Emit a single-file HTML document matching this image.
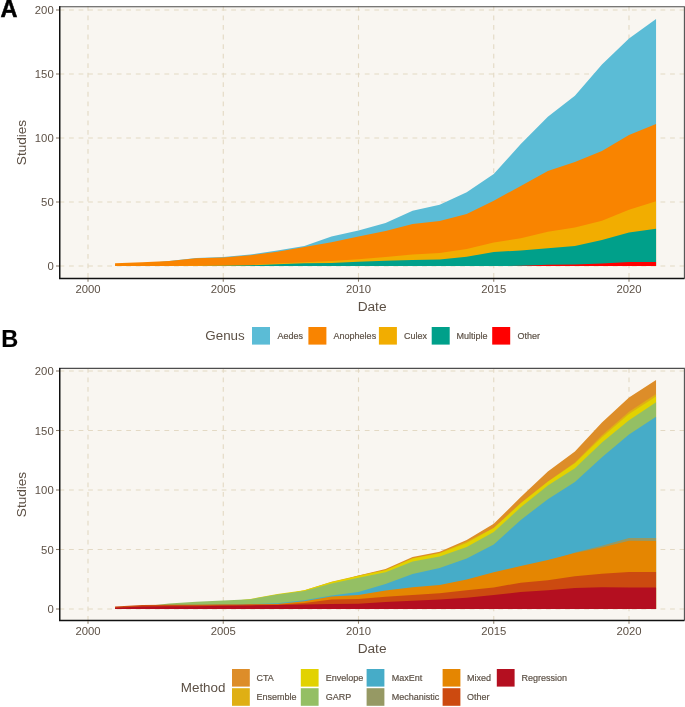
<!DOCTYPE html>
<html><head><meta charset="utf-8"><style>
html,body{margin:0;padding:0;background:#fff;}
svg{display:block;will-change:transform;font-family:"Liberation Sans",sans-serif;}
</style></head><body>
<svg width="685" height="707" viewBox="0 0 685 707">
<text x="0.6" y="17" font-size="23.5" font-weight="bold" fill="#000" stroke="#000" stroke-width="0.5">A</text>
<rect x="59" y="6" width="625" height="272" fill="#F9F6F1"/>
<path d="M88.00,6 L88.00,278" stroke="#E3D9C4" stroke-width="1.1" stroke-dasharray="4.77 4.77" fill="none"/>
<path d="M223.25,6 L223.25,278" stroke="#E3D9C4" stroke-width="1.1" stroke-dasharray="4.77 4.77" fill="none"/>
<path d="M358.50,6 L358.50,278" stroke="#E3D9C4" stroke-width="1.1" stroke-dasharray="4.77 4.77" fill="none"/>
<path d="M493.75,6 L493.75,278" stroke="#E3D9C4" stroke-width="1.1" stroke-dasharray="4.77 4.77" fill="none"/>
<path d="M629.00,6 L629.00,278" stroke="#E3D9C4" stroke-width="1.1" stroke-dasharray="4.77 4.77" fill="none"/>
<path d="M59.5,266.00 L684,266.00" stroke="#E3D9C4" stroke-width="1.1" stroke-dasharray="4.77 4.77" fill="none"/>
<path d="M59.5,202.00 L684,202.00" stroke="#E3D9C4" stroke-width="1.1" stroke-dasharray="4.77 4.77" fill="none"/>
<path d="M59.5,138.00 L684,138.00" stroke="#E3D9C4" stroke-width="1.1" stroke-dasharray="4.77 4.77" fill="none"/>
<path d="M59.5,74.00 L684,74.00" stroke="#E3D9C4" stroke-width="1.1" stroke-dasharray="4.77 4.77" fill="none"/>
<path d="M59.5,10.00 L684,10.00" stroke="#E3D9C4" stroke-width="1.1" stroke-dasharray="4.77 4.77" fill="none"/>
<path d="M115.05,264.70 L142.10,263.80 L169.15,260.90 L196.20,258.00 L223.25,257.00 L250.30,254.50 L277.35,250.40 L304.40,246.00 L331.45,236.50 L358.50,230.50 L385.55,223.10 L412.60,210.80 L439.65,204.70 L466.70,192.20 L493.75,174.10 L520.80,144.10 L547.85,116.70 L574.90,95.70 L601.95,64.40 L629.00,38.60 L656.05,19.00 L656.05,266.00 L629.00,266.00 L601.95,266.00 L574.90,266.00 L547.85,266.00 L520.80,266.00 L493.75,266.00 L466.70,266.00 L439.65,266.00 L412.60,266.00 L385.55,266.00 L358.50,266.00 L331.45,266.00 L304.40,266.00 L277.35,266.00 L250.30,266.00 L223.25,266.00 L196.20,266.00 L169.15,266.00 L142.10,266.00 L115.05,266.00Z" fill="#5BBCD6"/>
<path d="M115.05,263.20 L142.10,262.30 L169.15,261.00 L196.20,258.30 L223.25,257.50 L250.30,255.20 L277.35,251.80 L304.40,247.00 L331.45,242.30 L358.50,236.50 L385.55,231.10 L412.60,224.10 L439.65,220.90 L466.70,214.00 L493.75,200.70 L520.80,186.00 L547.85,171.00 L574.90,162.00 L601.95,150.90 L629.00,135.00 L656.05,124.00 L656.05,266.00 L629.00,266.00 L601.95,266.00 L574.90,266.00 L547.85,266.00 L520.80,266.00 L493.75,266.00 L466.70,266.00 L439.65,266.00 L412.60,266.00 L385.55,266.00 L358.50,266.00 L331.45,266.00 L304.40,266.00 L277.35,266.00 L250.30,266.00 L223.25,266.00 L196.20,266.00 L169.15,266.00 L142.10,266.00 L115.05,266.00Z" fill="#F98400"/>
<path d="M115.05,266.00 L142.10,266.00 L169.15,266.00 L196.20,265.70 L223.25,265.50 L250.30,265.00 L277.35,263.50 L304.40,262.30 L331.45,261.00 L358.50,259.20 L385.55,256.90 L412.60,254.40 L439.65,252.90 L466.70,249.00 L493.75,242.60 L520.80,238.30 L547.85,231.80 L574.90,227.50 L601.95,220.70 L629.00,209.70 L656.05,201.20 L656.05,266.00 L629.00,266.00 L601.95,266.00 L574.90,266.00 L547.85,266.00 L520.80,266.00 L493.75,266.00 L466.70,266.00 L439.65,266.00 L412.60,266.00 L385.55,266.00 L358.50,266.00 L331.45,266.00 L304.40,266.00 L277.35,266.00 L250.30,266.00 L223.25,266.00 L196.20,266.00 L169.15,266.00 L142.10,266.00 L115.05,266.00Z" fill="#F2AD00"/>
<path d="M115.05,266.00 L142.10,266.00 L169.15,266.00 L196.20,266.00 L223.25,265.80 L250.30,265.30 L277.35,264.20 L304.40,263.30 L331.45,263.00 L358.50,261.80 L385.55,260.70 L412.60,260.10 L439.65,259.60 L466.70,256.80 L493.75,251.90 L520.80,250.50 L547.85,248.20 L574.90,246.10 L601.95,239.90 L629.00,232.50 L656.05,228.80 L656.05,266.00 L629.00,266.00 L601.95,266.00 L574.90,266.00 L547.85,266.00 L520.80,266.00 L493.75,266.00 L466.70,266.00 L439.65,266.00 L412.60,266.00 L385.55,266.00 L358.50,266.00 L331.45,266.00 L304.40,266.00 L277.35,266.00 L250.30,266.00 L223.25,266.00 L196.20,266.00 L169.15,266.00 L142.10,266.00 L115.05,266.00Z" fill="#00A08A"/>
<path d="M115.05,266.00 L142.10,266.00 L169.15,266.00 L196.20,266.00 L223.25,266.00 L250.30,266.00 L277.35,266.00 L304.40,266.00 L331.45,266.00 L358.50,266.00 L385.55,266.00 L412.60,266.00 L439.65,266.00 L466.70,266.00 L493.75,266.00 L520.80,265.80 L547.85,264.80 L574.90,264.40 L601.95,263.50 L629.00,262.10 L656.05,262.00 L656.05,266.00 L629.00,266.00 L601.95,266.00 L574.90,266.00 L547.85,266.00 L520.80,266.00 L493.75,266.00 L466.70,266.00 L439.65,266.00 L412.60,266.00 L385.55,266.00 L358.50,266.00 L331.45,266.00 L304.40,266.00 L277.35,266.00 L250.30,266.00 L223.25,266.00 L196.20,266.00 L169.15,266.00 L142.10,266.00 L115.05,266.00Z" fill="#FF0000"/>
<path d="M59,6.67 L684.4,6.67 L684.4,278.5" fill="none" stroke="#4D4D4D" stroke-width="1.07"/>
<path d="M59.75,6.17 L59.75,278.5 L684.5,278.5" stroke="#111" stroke-width="1.5" fill="none"/>
<path d="M56,266.00 L59,266.00" stroke="#8B7D6B" stroke-width="1.07"/>
<text x="53.7" y="270.05" text-anchor="end" font-size="11.3" fill="#5C5045">0</text>
<path d="M56,202.00 L59,202.00" stroke="#8B7D6B" stroke-width="1.07"/>
<text x="53.7" y="206.05" text-anchor="end" font-size="11.3" fill="#5C5045">50</text>
<path d="M56,138.00 L59,138.00" stroke="#8B7D6B" stroke-width="1.07"/>
<text x="53.7" y="142.05" text-anchor="end" font-size="11.3" fill="#5C5045">100</text>
<path d="M56,74.00 L59,74.00" stroke="#8B7D6B" stroke-width="1.07"/>
<text x="53.7" y="78.05" text-anchor="end" font-size="11.3" fill="#5C5045">150</text>
<path d="M56,10.00 L59,10.00" stroke="#8B7D6B" stroke-width="1.07"/>
<text x="53.7" y="14.05" text-anchor="end" font-size="11.3" fill="#5C5045">200</text>
<path d="M88.00,279 L88.00,281.7" stroke="#8B7D6B" stroke-width="1.07"/>
<text x="88.00" y="292.70" text-anchor="middle" font-size="11.3" fill="#5C5045">2000</text>
<path d="M223.25,279 L223.25,281.7" stroke="#8B7D6B" stroke-width="1.07"/>
<text x="223.25" y="292.70" text-anchor="middle" font-size="11.3" fill="#5C5045">2005</text>
<path d="M358.50,279 L358.50,281.7" stroke="#8B7D6B" stroke-width="1.07"/>
<text x="358.50" y="292.70" text-anchor="middle" font-size="11.3" fill="#5C5045">2010</text>
<path d="M493.75,279 L493.75,281.7" stroke="#8B7D6B" stroke-width="1.07"/>
<text x="493.75" y="292.70" text-anchor="middle" font-size="11.3" fill="#5C5045">2015</text>
<path d="M629.00,279 L629.00,281.7" stroke="#8B7D6B" stroke-width="1.07"/>
<text x="629.00" y="292.70" text-anchor="middle" font-size="11.3" fill="#5C5045">2020</text>
<text x="372.1" y="311.10" text-anchor="middle" font-size="13.7" fill="#5C5045">Date</text>
<text transform="translate(26.3,142.5) rotate(-90)" x="0" y="0" text-anchor="middle" font-size="13.6" fill="#5C5045">Studies</text>
<text x="205.3" y="340.4" font-size="13.4" fill="#5C5045">Genus</text>
<rect x="252" y="327" width="18" height="17.6" fill="#5BBCD6"/>
<text x="277.5" y="338.8" font-size="9" fill="#5C5045" stroke="#5C5045" stroke-width="0.18">Aedes</text>
<rect x="308.4" y="327" width="18" height="17.6" fill="#F98400"/>
<text x="333.6" y="338.8" font-size="9" fill="#5C5045" stroke="#5C5045" stroke-width="0.18">Anopheles</text>
<rect x="378.9" y="327" width="18" height="17.6" fill="#F2AD00"/>
<text x="404" y="338.8" font-size="9" fill="#5C5045" stroke="#5C5045" stroke-width="0.18">Culex</text>
<rect x="431.7" y="327" width="18" height="17.6" fill="#00A08A"/>
<text x="456.4" y="338.8" font-size="9" fill="#5C5045" stroke="#5C5045" stroke-width="0.18">Multiple</text>
<rect x="492.2" y="327" width="18" height="17.6" fill="#FF0000"/>
<text x="517.4" y="338.8" font-size="9" fill="#5C5045" stroke="#5C5045" stroke-width="0.18">Other</text>
<text x="1.2" y="347" font-size="23.5" font-weight="bold" fill="#000" stroke="#000" stroke-width="0.15">B</text>
<rect x="59" y="368" width="625" height="252" fill="#F9F6F1"/>
<path d="M88.00,368 L88.00,620" stroke="#E3D9C4" stroke-width="1.1" stroke-dasharray="4.77 4.77" fill="none"/>
<path d="M223.25,368 L223.25,620" stroke="#E3D9C4" stroke-width="1.1" stroke-dasharray="4.77 4.77" fill="none"/>
<path d="M358.50,368 L358.50,620" stroke="#E3D9C4" stroke-width="1.1" stroke-dasharray="4.77 4.77" fill="none"/>
<path d="M493.75,368 L493.75,620" stroke="#E3D9C4" stroke-width="1.1" stroke-dasharray="4.77 4.77" fill="none"/>
<path d="M629.00,368 L629.00,620" stroke="#E3D9C4" stroke-width="1.1" stroke-dasharray="4.77 4.77" fill="none"/>
<path d="M59.5,609.00 L684,609.00" stroke="#E3D9C4" stroke-width="1.1" stroke-dasharray="4.77 4.77" fill="none"/>
<path d="M59.5,549.50 L684,549.50" stroke="#E3D9C4" stroke-width="1.1" stroke-dasharray="4.77 4.77" fill="none"/>
<path d="M59.5,490.00 L684,490.00" stroke="#E3D9C4" stroke-width="1.1" stroke-dasharray="4.77 4.77" fill="none"/>
<path d="M59.5,430.50 L684,430.50" stroke="#E3D9C4" stroke-width="1.1" stroke-dasharray="4.77 4.77" fill="none"/>
<path d="M59.5,371.00 L684,371.00" stroke="#E3D9C4" stroke-width="1.1" stroke-dasharray="4.77 4.77" fill="none"/>
<path d="M115.05,608.10 L142.10,606.50 L169.15,604.90 L196.20,603.20 L223.25,602.00 L250.30,600.50 L277.35,595.50 L304.40,591.70 L331.45,583.20 L358.50,575.50 L385.55,569.00 L412.60,557.00 L439.65,551.80 L466.70,540.00 L493.75,523.80 L520.80,497.10 L547.85,471.60 L574.90,451.50 L601.95,422.50 L629.00,397.60 L656.05,379.90 L656.05,609.00 L629.00,609.00 L601.95,609.00 L574.90,609.00 L547.85,609.00 L520.80,609.00 L493.75,609.00 L466.70,609.00 L439.65,609.00 L412.60,609.00 L385.55,609.00 L358.50,609.00 L331.45,609.00 L304.40,609.00 L277.35,609.00 L250.30,609.00 L223.25,609.00 L196.20,609.00 L169.15,609.00 L142.10,609.00 L115.05,609.00Z" fill="#DD8D29"/>
<path d="M115.05,608.10 L142.10,606.50 L169.15,604.90 L196.20,603.20 L223.25,602.00 L250.30,600.50 L277.35,595.50 L304.40,590.20 L331.45,581.70 L358.50,575.60 L385.55,570.00 L412.60,558.30 L439.65,553.10 L466.70,541.50 L493.75,527.90 L520.80,502.90 L547.85,481.40 L574.90,462.50 L601.95,435.20 L629.00,411.80 L656.05,393.90 L656.05,609.00 L629.00,609.00 L601.95,609.00 L574.90,609.00 L547.85,609.00 L520.80,609.00 L493.75,609.00 L466.70,609.00 L439.65,609.00 L412.60,609.00 L385.55,609.00 L358.50,609.00 L331.45,609.00 L304.40,609.00 L277.35,609.00 L250.30,609.00 L223.25,609.00 L196.20,609.00 L169.15,609.00 L142.10,609.00 L115.05,609.00Z" fill="#DFAF14"/>
<path d="M115.05,608.10 L142.10,606.50 L169.15,604.90 L196.20,603.20 L223.25,602.00 L250.30,599.00 L277.35,594.00 L304.40,590.30 L331.45,581.90 L358.50,575.90 L385.55,570.20 L412.60,558.50 L439.65,553.30 L466.70,543.00 L493.75,528.10 L520.80,503.20 L547.85,481.80 L574.90,463.20 L601.95,437.20 L629.00,414.00 L656.05,396.50 L656.05,609.00 L629.00,609.00 L601.95,609.00 L574.90,609.00 L547.85,609.00 L520.80,609.00 L493.75,609.00 L466.70,609.00 L439.65,609.00 L412.60,609.00 L385.55,609.00 L358.50,609.00 L331.45,609.00 L304.40,609.00 L277.35,609.00 L250.30,609.00 L223.25,609.00 L196.20,609.00 L169.15,609.00 L142.10,609.00 L115.05,609.00Z" fill="#E2D200"/>
<path d="M115.05,608.10 L142.10,606.50 L169.15,603.40 L196.20,601.70 L223.25,600.50 L250.30,599.20 L277.35,594.40 L304.40,591.10 L331.45,583.40 L358.50,577.80 L385.55,572.20 L412.60,561.60 L439.65,556.40 L466.70,547.00 L493.75,532.10 L520.80,507.30 L547.85,485.50 L574.90,468.20 L601.95,442.50 L629.00,420.20 L656.05,402.30 L656.05,609.00 L629.00,609.00 L601.95,609.00 L574.90,609.00 L547.85,609.00 L520.80,609.00 L493.75,609.00 L466.70,609.00 L439.65,609.00 L412.60,609.00 L385.55,609.00 L358.50,609.00 L331.45,609.00 L304.40,609.00 L277.35,609.00 L250.30,609.00 L223.25,609.00 L196.20,609.00 L169.15,609.00 L142.10,609.00 L115.05,609.00Z" fill="#94BF64"/>
<path d="M115.05,608.10 L142.10,606.50 L169.15,606.30 L196.20,606.30 L223.25,606.10 L250.30,604.00 L277.35,603.20 L304.40,600.30 L331.45,595.60 L358.50,592.00 L385.55,583.90 L412.60,574.00 L439.65,568.00 L466.70,558.50 L493.75,544.60 L520.80,519.90 L547.85,499.20 L574.90,482.00 L601.95,457.20 L629.00,434.60 L656.05,416.80 L656.05,609.00 L629.00,609.00 L601.95,609.00 L574.90,609.00 L547.85,609.00 L520.80,609.00 L493.75,609.00 L466.70,609.00 L439.65,609.00 L412.60,609.00 L385.55,609.00 L358.50,609.00 L331.45,609.00 L304.40,609.00 L277.35,609.00 L250.30,609.00 L223.25,609.00 L196.20,609.00 L169.15,609.00 L142.10,609.00 L115.05,609.00Z" fill="#46ACC8"/>
<path d="M115.05,608.10 L142.10,606.50 L169.15,606.30 L196.20,606.30 L223.25,606.10 L250.30,605.70 L277.35,605.40 L304.40,602.80 L331.45,598.00 L358.50,596.50 L385.55,592.10 L412.60,588.80 L439.65,586.50 L466.70,581.10 L493.75,573.80 L520.80,567.50 L547.85,561.50 L574.90,552.60 L601.95,545.80 L629.00,537.90 L656.05,537.90 L656.05,609.00 L629.00,609.00 L601.95,609.00 L574.90,609.00 L547.85,609.00 L520.80,609.00 L493.75,609.00 L466.70,609.00 L439.65,609.00 L412.60,609.00 L385.55,609.00 L358.50,609.00 L331.45,609.00 L304.40,609.00 L277.35,609.00 L250.30,609.00 L223.25,609.00 L196.20,609.00 L169.15,609.00 L142.10,609.00 L115.05,609.00Z" fill="#969964"/>
<path d="M115.05,608.10 L142.10,606.50 L169.15,606.30 L196.20,606.30 L223.25,606.10 L250.30,604.20 L277.35,603.90 L304.40,601.30 L331.45,596.50 L358.50,595.00 L385.55,590.60 L412.60,587.30 L439.65,585.00 L466.70,579.60 L493.75,572.30 L520.80,566.00 L547.85,560.00 L574.90,553.10 L601.95,547.40 L629.00,540.80 L656.05,541.00 L656.05,609.00 L629.00,609.00 L601.95,609.00 L574.90,609.00 L547.85,609.00 L520.80,609.00 L493.75,609.00 L466.70,609.00 L439.65,609.00 L412.60,609.00 L385.55,609.00 L358.50,609.00 L331.45,609.00 L304.40,609.00 L277.35,609.00 L250.30,609.00 L223.25,609.00 L196.20,609.00 L169.15,609.00 L142.10,609.00 L115.05,609.00Z" fill="#E58601"/>
<path d="M115.05,606.60 L142.10,605.00 L169.15,604.80 L196.20,604.80 L223.25,604.60 L250.30,604.60 L277.35,604.40 L304.40,602.90 L331.45,599.60 L358.50,598.90 L385.55,596.80 L412.60,595.00 L439.65,593.20 L466.70,590.20 L493.75,587.40 L520.80,582.70 L547.85,580.30 L574.90,576.20 L601.95,573.80 L629.00,572.10 L656.05,572.10 L656.05,609.00 L629.00,609.00 L601.95,609.00 L574.90,609.00 L547.85,609.00 L520.80,609.00 L493.75,609.00 L466.70,609.00 L439.65,609.00 L412.60,609.00 L385.55,609.00 L358.50,609.00 L331.45,609.00 L304.40,609.00 L277.35,609.00 L250.30,609.00 L223.25,609.00 L196.20,609.00 L169.15,609.00 L142.10,609.00 L115.05,609.00Z" fill="#CC4A10"/>
<path d="M115.05,607.80 L142.10,606.60 L169.15,606.20 L196.20,606.20 L223.25,605.80 L250.30,605.40 L277.35,604.90 L304.40,604.40 L331.45,603.90 L358.50,603.80 L385.55,602.00 L412.60,600.80 L439.65,599.60 L466.70,597.80 L493.75,595.00 L520.80,592.00 L547.85,590.20 L574.90,588.10 L601.95,587.30 L629.00,587.40 L656.05,587.40 L656.05,609.00 L629.00,609.00 L601.95,609.00 L574.90,609.00 L547.85,609.00 L520.80,609.00 L493.75,609.00 L466.70,609.00 L439.65,609.00 L412.60,609.00 L385.55,609.00 L358.50,609.00 L331.45,609.00 L304.40,609.00 L277.35,609.00 L250.30,609.00 L223.25,609.00 L196.20,609.00 L169.15,609.00 L142.10,609.00 L115.05,609.00Z" fill="#B40F20"/>
<path d="M59,368.4 L684.4,368.4 L684.4,620.5" fill="none" stroke="#4D4D4D" stroke-width="1.07"/>
<path d="M59.75,367.9 L59.75,620.5 L684.5,620.5" stroke="#111" stroke-width="1.5" fill="none"/>
<path d="M56,609.00 L59,609.00" stroke="#8B7D6B" stroke-width="1.07"/>
<text x="53.7" y="613.05" text-anchor="end" font-size="11.3" fill="#5C5045">0</text>
<path d="M56,549.50 L59,549.50" stroke="#8B7D6B" stroke-width="1.07"/>
<text x="53.7" y="553.55" text-anchor="end" font-size="11.3" fill="#5C5045">50</text>
<path d="M56,490.00 L59,490.00" stroke="#8B7D6B" stroke-width="1.07"/>
<text x="53.7" y="494.05" text-anchor="end" font-size="11.3" fill="#5C5045">100</text>
<path d="M56,430.50 L59,430.50" stroke="#8B7D6B" stroke-width="1.07"/>
<text x="53.7" y="434.55" text-anchor="end" font-size="11.3" fill="#5C5045">150</text>
<path d="M56,371.00 L59,371.00" stroke="#8B7D6B" stroke-width="1.07"/>
<text x="53.7" y="375.05" text-anchor="end" font-size="11.3" fill="#5C5045">200</text>
<path d="M88.00,621 L88.00,623.7" stroke="#8B7D6B" stroke-width="1.07"/>
<text x="88.00" y="634.70" text-anchor="middle" font-size="11.3" fill="#5C5045">2000</text>
<path d="M223.25,621 L223.25,623.7" stroke="#8B7D6B" stroke-width="1.07"/>
<text x="223.25" y="634.70" text-anchor="middle" font-size="11.3" fill="#5C5045">2005</text>
<path d="M358.50,621 L358.50,623.7" stroke="#8B7D6B" stroke-width="1.07"/>
<text x="358.50" y="634.70" text-anchor="middle" font-size="11.3" fill="#5C5045">2010</text>
<path d="M493.75,621 L493.75,623.7" stroke="#8B7D6B" stroke-width="1.07"/>
<text x="493.75" y="634.70" text-anchor="middle" font-size="11.3" fill="#5C5045">2015</text>
<path d="M629.00,621 L629.00,623.7" stroke="#8B7D6B" stroke-width="1.07"/>
<text x="629.00" y="634.70" text-anchor="middle" font-size="11.3" fill="#5C5045">2020</text>
<text x="372.1" y="653.10" text-anchor="middle" font-size="13.7" fill="#5C5045">Date</text>
<text transform="translate(26.3,494.5) rotate(-90)" x="0" y="0" text-anchor="middle" font-size="13.6" fill="#5C5045">Studies</text>
<text x="180.8" y="692.1" font-size="13.4" fill="#5C5045">Method</text>
<rect x="232" y="669" width="17.8" height="17.6" fill="#DD8D29"/>
<text x="256.5" y="680.8" font-size="9" fill="#5C5045" stroke="#5C5045" stroke-width="0.18">CTA</text>
<rect x="232" y="688.2" width="17.8" height="17.6" fill="#DFAF14"/>
<text x="256.5" y="699.9" font-size="9" fill="#5C5045" stroke="#5C5045" stroke-width="0.18">Ensemble</text>
<rect x="300.8" y="669" width="17.8" height="17.6" fill="#E2D200"/>
<text x="325.8" y="680.8" font-size="9" fill="#5C5045" stroke="#5C5045" stroke-width="0.18">Envelope</text>
<rect x="300.8" y="688.2" width="17.8" height="17.6" fill="#94BF64"/>
<text x="325.8" y="699.9" font-size="9" fill="#5C5045" stroke="#5C5045" stroke-width="0.18">GARP</text>
<rect x="366.6" y="669" width="17.8" height="17.6" fill="#46ACC8"/>
<text x="391.8" y="680.8" font-size="9" fill="#5C5045" stroke="#5C5045" stroke-width="0.18">MaxEnt</text>
<rect x="366.6" y="688.2" width="17.8" height="17.6" fill="#969964"/>
<text x="391.8" y="699.9" font-size="9" fill="#5C5045" stroke="#5C5045" stroke-width="0.18">Mechanistic</text>
<rect x="442.6" y="669" width="17.8" height="17.6" fill="#E58601"/>
<text x="467" y="680.8" font-size="9" fill="#5C5045" stroke="#5C5045" stroke-width="0.18">Mixed</text>
<rect x="442.6" y="688.2" width="17.8" height="17.6" fill="#CC4A10"/>
<text x="467" y="699.9" font-size="9" fill="#5C5045" stroke="#5C5045" stroke-width="0.18">Other</text>
<rect x="496.8" y="669" width="17.8" height="17.6" fill="#B40F20"/>
<text x="521.6" y="680.8" font-size="9" fill="#5C5045" stroke="#5C5045" stroke-width="0.18">Regression</text>
</svg>
</body></html>
